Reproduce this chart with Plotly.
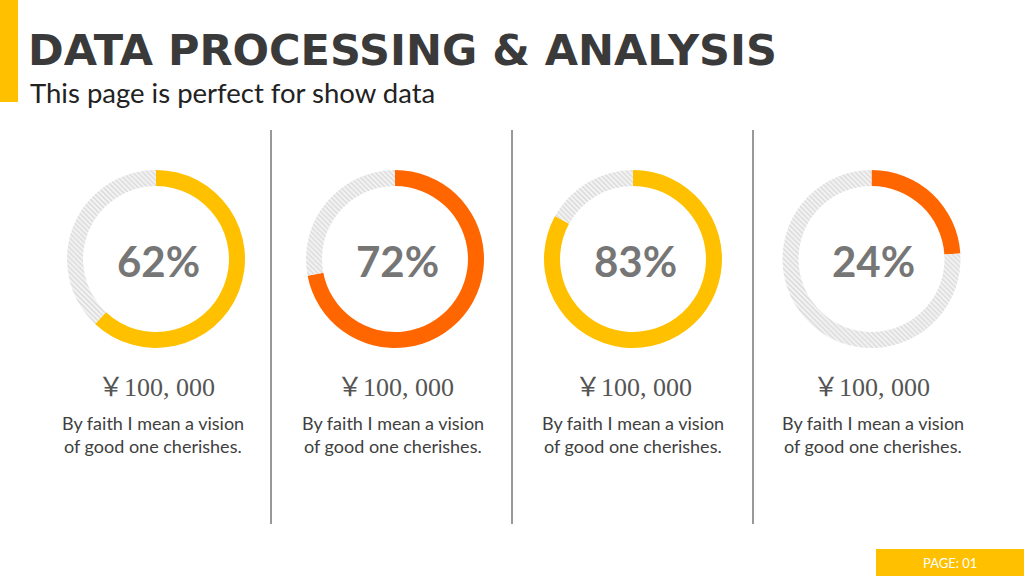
import plotly.graph_objects as go

W, H = 1024, 576

# ---- data ----
percent_values = [62, 72, 83, 24]
ring_colors = ["#FFC000", "#FF6600", "#FFC000", "#FF6600"]
amount_labels = ["￥100, 000"] * 4
desc_line1 = ["By faith I mean a vision"] * 4
desc_line2 = ["of good one cherishes."] * 4
title_text = "DATA PROCESSING & ANALYSIS"
subtitle_text = "This page is perfect for show data"
page_label = "PAGE: 01"

centers_x = [156, 395, 633, 871.5]
desc_x = [153, 393, 633, 873]
center_y = 259
radius = 89
divider_x = [271, 512, 753]


def px(x):
    return x / W


def py(y):
    return 1 - y / H


fig = go.Figure()

for i, val in enumerate(percent_values):
    cx = centers_x[i]
    fig.add_trace(go.Pie(
        values=[val, 100 - val],
        labels=["value", "rest"],
        sort=False,
        direction="clockwise",
        rotation=0,
        hole=0.82,
        textinfo="none",
        hoverinfo="skip",
        showlegend=False,
        marker=dict(
            colors=[ring_colors[i], "#ffffff"],
            line=dict(width=0),
            pattern=dict(
                shape=["", "\\"],
                fgcolor=["#ffffff", "#d8d8d8"],
                bgcolor=[ring_colors[i], "#f4f4f4"],
                size=3.5,
                solidity=0.4,
            ),
        ),
        domain=dict(
            x=[px(cx - radius), px(cx + radius)],
            y=[py(center_y + radius), py(center_y - radius)],
        ),
    ))

annotations = []
for i, val in enumerate(percent_values):
    cx = centers_x[i]
    annotations.append(dict(
        x=px(cx + 2), y=py(center_y + 2), xref="paper", yref="paper",
        text=f"<b>{val}%</b>", showarrow=False,
        font=dict(family="Lato, Open Sans, sans-serif", size=42, color="#767676"),
        xanchor="center", yanchor="middle",
    ))
    annotations.append(dict(
        x=px(cx), y=py(387), xref="paper", yref="paper",
        text=amount_labels[i], showarrow=False,
        font=dict(family="Liberation Serif, Noto Sans CJK SC, serif", size=26, color="#555555"),
        xanchor="center", yanchor="middle",
    ))
    annotations.append(dict(
        x=px(desc_x[i]), y=py(423), xref="paper", yref="paper",
        text=desc_line1[i], showarrow=False,
        font=dict(family="Lato, Open Sans, sans-serif", size=18, color="#404040"),
        xanchor="center", yanchor="middle",
    ))
    annotations.append(dict(
        x=px(desc_x[i]), y=py(446), xref="paper", yref="paper",
        text=desc_line2[i], showarrow=False,
        font=dict(family="Lato, Open Sans, sans-serif", size=18, color="#404040"),
        xanchor="center", yanchor="middle",
    ))

annotations.append(dict(
    x=px(26), y=py(50), xref="paper", yref="paper",
    text=f"<b>{title_text}</b>", showarrow=False,
    font=dict(family="DejaVu Sans, Liberation Sans, sans-serif", size=43, color="#3a3a3a"),
    xanchor="left", yanchor="middle",
))
annotations.append(dict(
    x=px(28), y=py(92), xref="paper", yref="paper",
    text=subtitle_text, showarrow=False,
    font=dict(family="Lato, Open Sans, sans-serif", size=27.5, color="#222222"),
    xanchor="left", yanchor="middle",
))
annotations.append(dict(
    x=px(950), y=py(563), xref="paper", yref="paper",
    text=page_label, showarrow=False,
    font=dict(family="Lato, Open Sans, sans-serif", size=13, color="#ffffff"),
    xanchor="center", yanchor="middle",
))

shapes = [
    dict(type="rect", xref="paper", yref="paper",
         x0=px(0), x1=px(18), y0=py(102), y1=py(0),
         fillcolor="#FFC000", line=dict(width=0)),
    dict(type="rect", xref="paper", yref="paper",
         x0=px(876), x1=px(1024), y0=py(576), y1=py(549),
         fillcolor="#FFC000", line=dict(width=0)),
]
for dx in divider_x:
    shapes.append(dict(type="line", xref="paper", yref="paper",
                       x0=px(dx), x1=px(dx), y0=py(130), y1=py(524),
                       line=dict(color="#333333", width=1)))

fig.update_layout(
    width=W, height=H,
    margin=dict(l=0, r=0, t=0, b=0),
    paper_bgcolor="#ffffff",
    plot_bgcolor="#ffffff",
    annotations=annotations,
    shapes=shapes,
    showlegend=False,
)

fig.write_html(
    "out.html",
    config={"displayModeBar": False},
    post_script="document.body.style.margin='0px';document.body.style.overflow='hidden';",
)
